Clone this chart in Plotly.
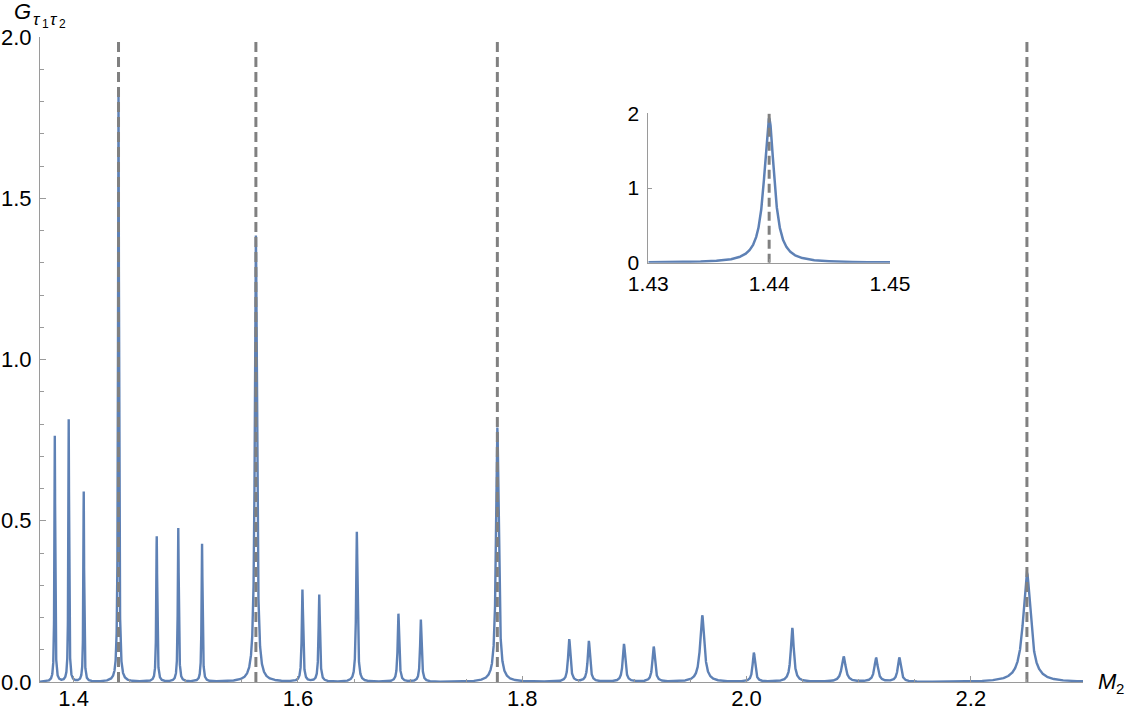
import numpy as np
import plotly.graph_objects as go

# ---- data ----
peak_centers = [1.3832, 1.3956, 1.4090, 1.4400, 1.4741, 1.4933, 1.5145, 1.5625,
                1.6040, 1.6190, 1.6525, 1.6896, 1.7096, 1.7778, 1.8419, 1.8594,
                1.8907, 1.9172, 1.9605, 2.0065, 2.0408, 2.0866, 2.1155, 2.1362, 2.2500]
peak_heights = [0.762, 0.813, 0.589, 1.840, 0.451, 0.476, 0.427, 1.384,
                0.285, 0.270, 0.465, 0.211, 0.193, 0.789, 0.132, 0.126,
                0.117, 0.109, 0.206, 0.090, 0.167, 0.078, 0.074, 0.075, 0.339]
peak_halfwidths = [0.0004, 0.0004, 0.0004, 0.0005, 0.0005, 0.0005, 0.0005, 0.0011,
                   0.0007, 0.0007, 0.00075, 0.0008, 0.0008, 0.00135, 0.0012, 0.0012,
                   0.0013, 0.0013, 0.0022, 0.0013, 0.0016, 0.0021, 0.0018, 0.0016, 0.0040]
resonance_lines = [1.44, 1.5625, 1.7778, 2.25]

inset_center = 1.44
inset_height = 1.93
inset_halfwidth = 0.0005

x_ticks = [1.4, 1.6, 1.8, 2.0, 2.2]
y_ticks = [0.0, 0.5, 1.0, 1.5, 2.0]
inset_x_ticks = [1.43, 1.44, 1.45]
inset_y_ticks = [0, 1, 2]

# ---- build curves from the peak table ----
def lorentz_sum(x, centers, heights, widths):
    y = np.zeros_like(x)
    for c, h, g in zip(centers, heights, widths):
        y += h * g**2 / ((x - c)**2 + g**2)
    return y

xr = (1.37, 2.30)
xs = np.sort(np.concatenate([np.linspace(xr[0], xr[1], 24000), np.array(peak_centers)]))
ys = lorentz_sum(xs, peak_centers, peak_heights, peak_halfwidths)

xi = np.sort(np.concatenate([np.linspace(1.43, 1.45, 3000), [inset_center]]))
yi = lorentz_sum(xi, [inset_center], [inset_height], [inset_halfwidth])

BLUE = "#5E81B5"
GRAY = "#808080"
AX = "#9a9a9a"
FONT = "Liberation Sans, Arial, sans-serif"

fig = go.Figure()
fig.add_trace(go.Scatter(x=xs, y=ys, mode="lines", line=dict(color=BLUE, width=2.4),
                         hoverinfo="skip", showlegend=False))
for r in resonance_lines:
    fig.add_trace(go.Scatter(x=[r, r], y=[0, 2.0], mode="lines",
                             line=dict(color=GRAY, width=3, dash="10px,5px"),
                             hoverinfo="skip", showlegend=False))

fig.add_trace(go.Scatter(x=xi, y=yi, mode="lines", line=dict(color=BLUE, width=2.5),
                         xaxis="x2", yaxis="y2", hoverinfo="skip", showlegend=False))
fig.add_trace(go.Scatter(x=[inset_center, inset_center], y=[0, 2], mode="lines",
                         line=dict(color=GRAY, width=3, dash="9px,5px"),
                         xaxis="x2", yaxis="y2", hoverinfo="skip", showlegend=False))

W, H = 1129, 714
ml, mr, mt, mb = 40, 46, 37, 32
pw, ph = W - ml - mr, H - mt - mb

def px(xp):
    return (xp - ml) / pw

def py(yp):
    return (H - mb - yp) / ph

axis_common = dict(showline=True, linecolor=AX, linewidth=1, showgrid=False, zeroline=False,
                   ticks="inside", tickcolor=AX, tickwidth=1)
main_font = dict(family=FONT, size=22, color="black")
inset_font = dict(family=FONT, size=21, color="black")

fig.update_layout(
    width=W, height=H,
    margin=dict(l=ml, r=mr, t=mt, b=mb, autoexpand=False),
    paper_bgcolor="white", plot_bgcolor="white",
    xaxis=dict(domain=[0, 1], range=list(xr), tickvals=x_ticks,
               ticktext=[f"{v:.1f}" for v in x_ticks], ticklen=6, tickfont=main_font,
               minor=dict(dtick=0.05, tick0=1.4, ticklen=3.5, tickcolor=AX, ticks="inside"),
               ticklabelstandoff=-3, **axis_common),
    yaxis=dict(domain=[0, 1], range=[0, 2.0], tickvals=y_ticks,
               ticktext=[f"{v:.1f}" for v in y_ticks], ticklen=6, tickfont=main_font,
               minor=dict(dtick=0.1, tick0=0, ticklen=3.5, tickcolor=AX, ticks="inside"),
               ticklabelstandoff=3, **axis_common),
    xaxis2=dict(domain=[px(648.3), px(890)], range=[1.43, 1.45], anchor="y2",
                tickvals=inset_x_ticks, ticktext=[f"{v:.2f}" for v in inset_x_ticks],
                ticklen=4, ticklabelstandoff=2, tickfont=inset_font, **axis_common),
    yaxis2=dict(domain=[py(262.7), py(113.3)], range=[0, 2], anchor="x2",
                tickvals=inset_y_ticks, ticktext=[str(v) for v in inset_y_ticks],
                ticklen=4, ticklabelstandoff=4, tickfont=inset_font, **axis_common),
)

ann = []
def label(text, xp, yp, size, xanchor="left"):
    ann.append(dict(text=text, x=px(xp), y=py(yp), xref="paper", yref="paper",
                    xanchor=xanchor, yanchor="middle", showarrow=False,
                    font=dict(family=FONT, size=size, color="black")))

label("<i>G</i>", 12, 12, 22)
label("<i>τ</i>", 31, 19, 17)
label("1", 40, 24, 12)
label("<i>τ</i>", 48, 19, 17)
label("2", 57, 24, 12)
label("<i>M</i>", 1096, 681, 22)
label("2", 1114, 688, 15)
fig.update_layout(annotations=ann)

fig.write_html("out.html", config={"displayModeBar": False},
               post_script="document.body.style.margin='0';document.body.style.padding='0';")
